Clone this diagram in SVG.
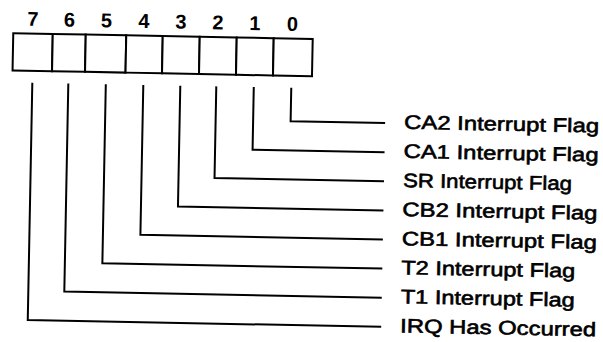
<svg xmlns="http://www.w3.org/2000/svg" width="603" height="342" viewBox="0 0 603 342">
<style>
.cell{fill:#fff;stroke:#000;stroke-width:2}
.num{font-family:"Liberation Sans",Arial,sans-serif;font-weight:bold;font-size:20px;text-anchor:middle;fill:#000}
.lbl{font-family:"Liberation Sans",Arial,sans-serif;font-weight:normal;font-size:19.5px;fill:#000;stroke:#000;stroke-width:0.6}
.wire{fill:none;stroke:#000;stroke-width:2}
</style>
<rect width="603" height="342" fill="#fff"/>
<g transform="rotate(1.1 300 180)">
<g id="register">
<g id="bit7"><rect class="cell" x="10.5" y="38.7" width="39.5" height="37.3"/><text class="num" x="30" y="31">7</text></g>
<g id="bit6"><rect class="cell" x="50" y="38.7" width="33" height="37.3"/><text class="num" x="66.5" y="31">6</text></g>
<g id="bit5"><rect class="cell" x="83" y="38.7" width="40.5" height="37.3"/><text class="num" x="103.5" y="31">5</text></g>
<g id="bit4"><rect class="cell" x="123.5" y="38.7" width="36.5" height="37.3"/><text class="num" x="141" y="31">4</text></g>
<g id="bit3"><rect class="cell" x="160" y="38.7" width="37" height="37.3"/><text class="num" x="178" y="31">3</text></g>
<g id="bit2"><rect class="cell" x="197" y="38.7" width="37" height="37.3"/><text class="num" x="215" y="31">2</text></g>
<g id="bit1"><rect class="cell" x="234" y="38.7" width="37" height="37.3"/><text class="num" x="252" y="31">1</text></g>
<g id="bit0"><rect class="cell" x="271" y="38.7" width="39" height="37.3"/><text class="num" x="289.5" y="31">0</text></g>
</g>
<g id="connectors">
<path class="wire" d="M289.5 88V121.5H384"/>
<path class="wire" d="M252 88V150.6H384"/>
<path class="wire" d="M214.5 88V179.7H384"/>
<path class="wire" d="M178.5 88V208.8H384"/>
<path class="wire" d="M141.5 88V237.9H384"/>
<path class="wire" d="M104 88V267H384"/>
<path class="wire" d="M66.5 88V296.1H384"/>
<path class="wire" d="M30.5 88V325.2H384"/>
</g>
<g id="label-ca2"><text class="lbl" x="403" y="126.8" textLength="195" lengthAdjust="spacingAndGlyphs">CA2 Interrupt Flag</text></g>
<g id="label-ca1"><text class="lbl" x="403" y="155.9" textLength="195" lengthAdjust="spacingAndGlyphs">CA1 Interrupt Flag</text></g>
<g id="label-sr"><text class="lbl" x="403" y="185" textLength="169" lengthAdjust="spacingAndGlyphs">SR Interrupt Flag</text></g>
<g id="label-cb2"><text class="lbl" x="403" y="214.1" textLength="195" lengthAdjust="spacingAndGlyphs">CB2 Interrupt Flag</text></g>
<g id="label-cb1"><text class="lbl" x="403" y="243.2" textLength="195" lengthAdjust="spacingAndGlyphs">CB1 Interrupt Flag</text></g>
<g id="label-t2"><text class="lbl" x="403" y="272.3" textLength="174" lengthAdjust="spacingAndGlyphs">T2 Interrupt Flag</text></g>
<g id="label-t1"><text class="lbl" x="403" y="301.4" textLength="174" lengthAdjust="spacingAndGlyphs">T1 Interrupt Flag</text></g>
<g id="label-irq"><text class="lbl" x="403" y="330.5" textLength="196" lengthAdjust="spacingAndGlyphs">IRQ Has Occurred</text></g>
</g>
</svg>
